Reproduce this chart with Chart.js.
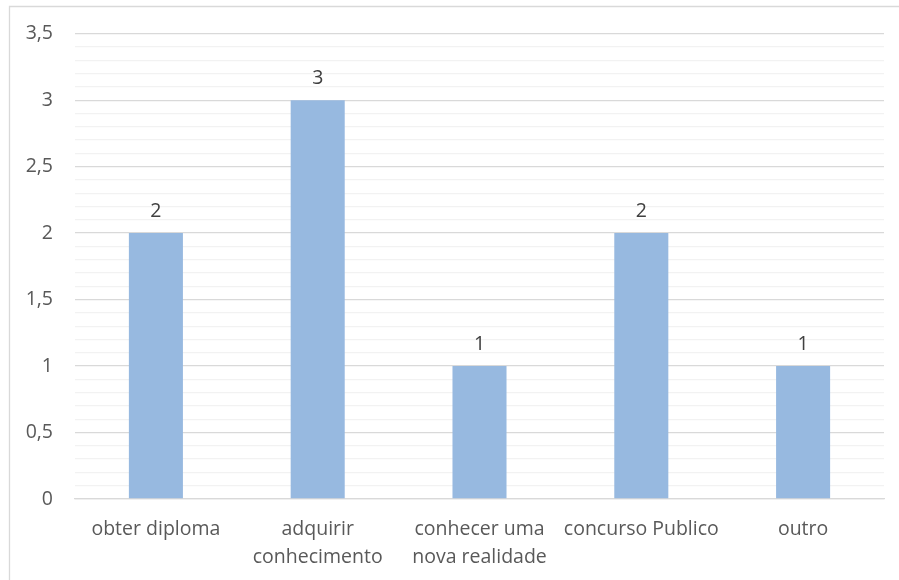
<!DOCTYPE html>
<html>
<head>
<meta charset="utf-8">
<script src="https://cdn.jsdelivr.net/npm/chart.js@4"></script>
<style>
html,body{margin:0;padding:0;background:#fff;}
#wrap{width:899px;height:580px;position:relative;}
</style>
</head>
<body>
<div id="wrap"><canvas id="c" width="899" height="580"></canvas></div>
<script>
const categories = [
  "obter diploma",
  ["adquirir", "conhecimento"],
  ["conhecer uma", "nova realidade"],
  "concurso Publico",
  "outro"
];
const values = [2, 3, 1, 2, 1];
const yMin = 0;
const yMax = 3.5;
const yMinorStep = 0.1;

const FONT = "'Open Sans', 'Liberation Sans', sans-serif";
const FSIZE = 19.5;

const borderPlugin = {
  id: 'outerBorder',
  beforeDraw(chart) {
    const ctx = chart.ctx;
    ctx.save();
    ctx.fillStyle = '#ffffff';
    ctx.fillRect(0, 0, chart.width, chart.height);
    ctx.strokeStyle = '#d9d9d9';
    ctx.lineWidth = 1.3;
    ctx.beginPath();
    ctx.moveTo(9.5, chart.height + 5);
    ctx.lineTo(9.5, 6.5);
    ctx.lineTo(chart.width + 5, 6.5);
    ctx.stroke();
    ctx.restore();
  }
};

const labelPlugin = {
  id: 'valueLabels',
  afterDatasetsDraw(chart) {
    const ctx = chart.ctx;
    ctx.save();
    ctx.font = FSIZE + "px " + FONT;
    ctx.fillStyle = '#404040';
    ctx.textAlign = 'center';
    ctx.textBaseline = 'middle';
    const meta = chart.getDatasetMeta(0);
    meta.data.forEach((bar, i) => {
      ctx.fillText(String(chart.data.datasets[0].data[i]).replace('.', ','), bar.x, bar.y - 22);
    });
    ctx.restore();
  }
};

function isMajor(v) {
  return Math.abs(v * 2 - Math.round(v * 2)) < 1e-6;
}

new Chart(document.getElementById('c'), {
  type: 'bar',
  data: {
    labels: categories,
    datasets: [{
      data: values,
      backgroundColor: '#97b9e0',
      borderWidth: 0,
      barPercentage: 0.334,
      categoryPercentage: 1.0
    }]
  },
  options: {
    responsive: false,
    animation: false,
    devicePixelRatio: 1,
    layout: { padding: { left: 0, top: 33, right: 15, bottom: 0 } },
    plugins: { legend: { display: false }, tooltip: { enabled: false } },
    scales: {
      x: {
        grid: { display: false, drawTicks: false },
        border: { display: true, color: '#d9d9d9', width: 1.3 },
        ticks: {
          color: '#595959',
          font: { family: FONT, size: FSIZE, lineHeight: 1.44 },
          padding: 16,
          maxRotation: 0,
          autoSkip: false
        },
        afterFit(scale) { scale.height = 81; }
      },
      y: {
        min: yMin,
        max: yMax,
        grid: {
          drawTicks: false,
          color: (c) => (c.tick && isMajor(c.tick.value)) ? '#d9d9d9' : '#f2f2f2',
          lineWidth: 1.3
        },
        border: { display: false },
        ticks: {
          stepSize: yMinorStep,
          autoSkip: false,
          color: '#595959',
          font: { family: FONT, size: FSIZE },
          padding: 22,
          callback: (v) => isMajor(v) ? String(Math.round(v * 10) / 10).replace('.', ',') : ''
        },
        afterFit(scale) { scale.width = 75; }
      }
    }
  },
  plugins: [borderPlugin, labelPlugin]
});
</script>
</body>
</html>
